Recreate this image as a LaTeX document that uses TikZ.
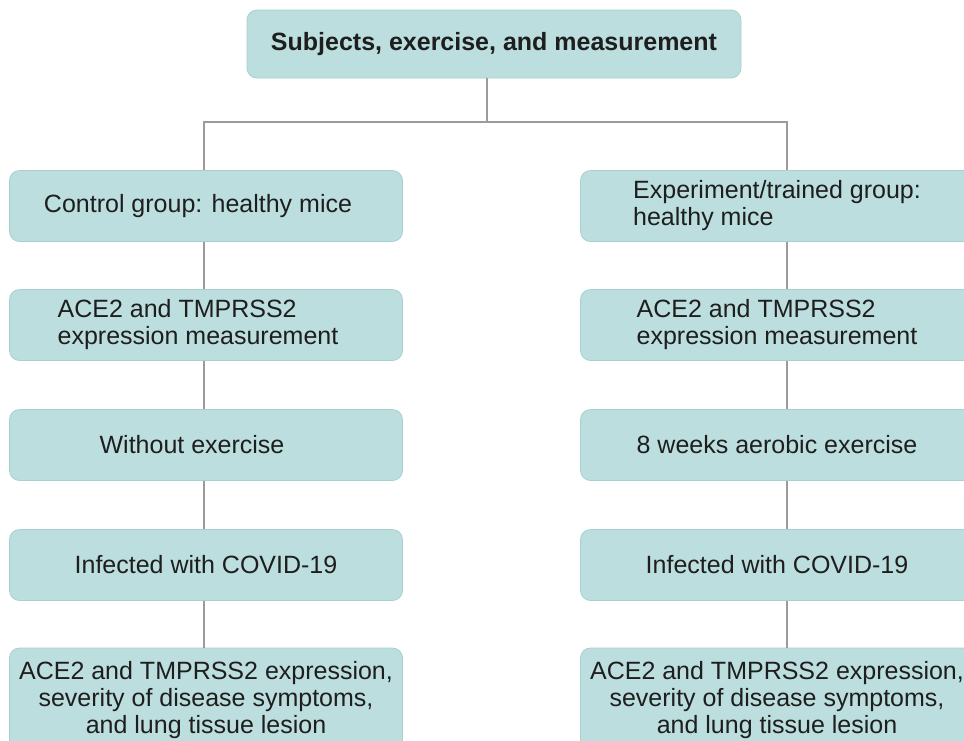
\documentclass[tikz,border=0pt]{standalone}
\usepackage{fontspec}
\setmainfont{Liberation Sans}
\usepackage{xcolor}
\definecolor{boxfill}{HTML}{BCDEDE}
\definecolor{boxline}{HTML}{A8D0D0}
\definecolor{wire}{HTML}{9E9A9A}
\definecolor{ink}{HTML}{1E1E1E}

\begin{document}
\begin{tikzpicture}[x=1pt,y=-1pt,
        box/.style={draw=boxline,fill=boxfill,rounded corners=10pt,line width=0.8pt,
                text=ink,font=\fontsize{25}{27}\selectfont,
                minimum width=393pt,minimum height=71pt,inner sep=4pt},
        wire/.style={draw=wire,line width=1.4pt}]
        \useasboundingbox (0,0) rectangle (964,740);
        \clip (0,0) rectangle (964,740);
        \node[box,font=\fontsize{25}{27}\selectfont\bfseries,minimum width=494pt,minimum height=68pt](top) at (494,44) {Subjects, exercise, and measurement};
        \node[box,align=left](c1) at (206,206) {Control group: healthy mice\kern16pt};
        \node[box,align=left](c2) at (206,325) {ACE2 and TMPRSS2\\expression measurement\kern16pt};
        \node[box](c3) at (206,445) {Without exercise\kern28pt};
        \node[box](c4) at (206,565) {Infected with COVID-19};
        \node[box,align=center,minimum height=104pt](c5) at (206,700) {ACE2 and TMPRSS2 expression,\\severity of disease symptoms,\\and lung tissue lesion};
        \node[box,align=left](e1) at (777,206) {Experiment/trained group:\\healthy mice};
        \node[box,align=left](e2) at (777,325) {ACE2 and TMPRSS2\\expression measurement};
        \node[box](e3) at (777,445) {8 weeks aerobic exercise};
        \node[box](e4) at (777,565) {Infected with COVID-19};
        \node[box,align=center,minimum height=104pt](e5) at (777,700) {ACE2 and TMPRSS2 expression,\\severity of disease symptoms,\\and lung tissue lesion};
        \coordinate(j) at (487,122);
        \coordinate(l) at (204,0);
        \coordinate(r) at (787,0);
        \draw[wire](top.south -| j)--(j);
        \draw[wire](c1.north -| l)|-(j)-|(e1.north -| r);
        \draw[wire](c1.south -| l)--(c2.north -| l);
        \draw[wire](c2.south -| l)--(c3.north -| l);
        \draw[wire](c3.south -| l)--(c4.north -| l);
        \draw[wire](c4.south -| l)--(c5.north -| l);
        \draw[wire](e1.south -| r)--(e2.north -| r);
        \draw[wire](e2.south -| r)--(e3.north -| r);
        \draw[wire](e3.south -| r)--(e4.north -| r);
        \draw[wire](e4.south -| r)--(e5.north -| r);
        \end{tikzpicture}
\end{document}
